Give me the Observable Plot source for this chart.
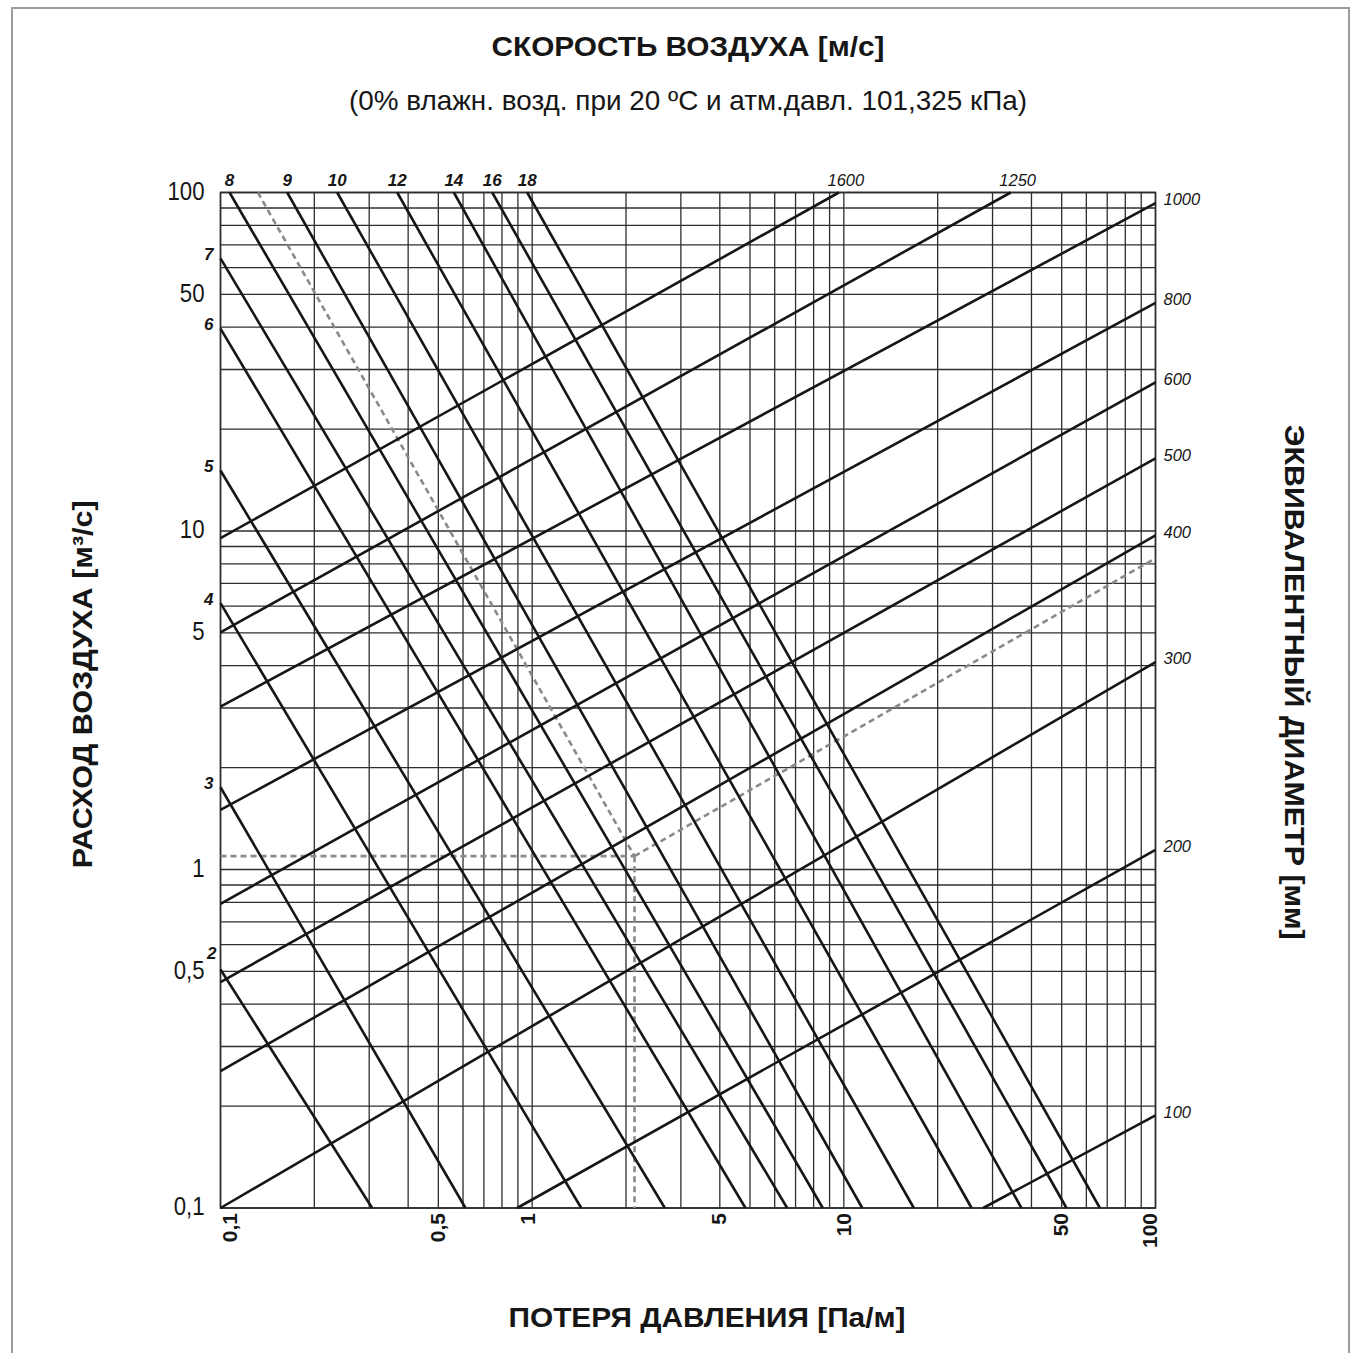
<!DOCTYPE html>
<html>
<head>
<meta charset="utf-8">
<script src="https://cdn.jsdelivr.net/npm/d3@7"></script>
<script src="https://cdn.jsdelivr.net/npm/@observablehq/plot@0.6"></script>
<style>
  body { margin: 0; background: #fff; }
  #wrap { position: relative; width: 1363px; height: 1353px; overflow: hidden; }
  #border { position: absolute; left: 11px; top: 7px; width: 1339px; height: 1400px; border: 2px solid #9c9c9c; box-sizing: border-box; }
  #chart { position: absolute; left: 0; top: 0; }
</style>
</head>
<body>
<div id="wrap"><div id="border"></div><div id="chart"></div></div>
<script>
// ---- Velocity lines [m/s]: start and end points (pressure loss R [Pa/m], flow Q [m3/s])
const velocity = [2, 3, 4, 5, 6, 7, 8, 9, 10, 12, 14, 16, 18];
const vStartR  = [0.1, 0.1, 0.1, 0.1, 0.1, 0.1, 0.1069, 0.1637, 0.2368, 0.369, 0.5607, 0.7445, 0.964];
const vStartQ  = [0.5064, 1.75, 6.12, 15.09, 39.6, 63.9, 100, 100, 100, 100, 100, 100, 100];
const vEndR    = [0.3066, 0.611, 1.437, 2.665, 4.835, 6.58, 8.56, 11.46, 16.77, 25.7, 37.15, 51.8, 66.3];
const vEndQ    = [0.1, 0.1, 0.1, 0.1, 0.1, 0.1, 0.1, 0.1, 0.1, 0.1, 0.1, 0.1, 0.1];

// ---- Equivalent diameter lines [mm]
const diameter = [100, 200, 300, 400, 500, 600, 800, 1000, 1250, 1600];
const dStartR  = [28.0, 0.895, 0.1, 0.1, 0.1, 0.1, 0.1, 0.1, 0.1, 0.1];
const dStartQ  = [0.1, 0.1, 0.1, 0.2536, 0.465, 0.792, 1.50, 3.03, 5.02, 9.52];
const dEndR    = [100, 100, 100, 100, 100, 100, 100, 100, 34.3, 9.64];
const dEndQ    = [0.1877, 1.143, 4.10, 9.70, 16.4, 27.5, 47.2, 93.0, 100, 100];

// ---- Worked example (dashed)
const exampleR = [0.1318, 2.13, 0.1, 2.13, 100];
const exampleQ = [100, 1.095, 1.095, 0.1, 8.31];

// ---- Tick labels
const xTicks = [0.1, 0.5, 1, 5, 10, 50, 100];
const xTickLabels = ["0,1", "0,5", "1", "5", "10", "50", "100"];
const yTicks = [100, 50, 10, 5, 1, 0.5, 0.1];
const yTickLabels = ["100", "50", "10", "5", "1", "0,5", "0,1"];

// ---- Texts
const title = "СКОРОСТЬ ВОЗДУХА [м/с]";
const subtitle = "(0% влажн. возд. при 20 ºC и атм.давл. 101,325 кПа)";
const xLabel = "ПОТЕРЯ ДАВЛЕНИЯ [Па/м]";
const yLabel = "РАСХОД ВОЗДУХА [м³/с]";
const y2Label = "ЭКВИВАЛЕНТНЫЙ ДИАМЕТР [мм]";

const NARROW = "'Liberation Sans Narrow','Arial Narrow','Liberation Sans',Arial,sans-serif";
const SANS = "'Liberation Sans',Arial,sans-serif";
const INK = "#161616";
const GRID = "#2e2e2e";

const vLines = velocity.map((v, i) => ({v, x1: vStartR[i], y1: vStartQ[i], x2: vEndR[i], y2: vEndQ[i]}));
const dLines = diameter.map((d, i) => ({d, x1: dStartR[i], y1: dStartQ[i], x2: dEndR[i], y2: dEndQ[i]}));
const ex = (a, b) => ({x1: exampleR[a], y1: exampleQ[a], x2: exampleR[b], y2: exampleQ[b]});
const exLinks = [ex(0, 1), ex(2, 1), ex(1, 3), ex(1, 4)];

const logScale = d3.scaleLog().domain([0.1, 100]);
const gridVals = logScale.ticks();

// small horizontal nudges of some x tick labels, as in the original drawing
const xLabelShift = {"0,1": 10, "1": -4, "5": -31, "100": -5};
const xTickMarks = xTicks.map((t, i) => Plot.text([t], {
  x: d => d, text: () => xTickLabels[i], frameAnchor: "bottom", dy: 5, dx: xLabelShift[xTickLabels[i]] || 0,
  rotate: -90, textAnchor: "end", lineAnchor: "middle",
  fontFamily: SANS, fontWeight: "bold", fontSize: 21, fill: INK
}));

const vlabelStyle = {fontFamily: SANS, fontWeight: "bold", fontStyle: "italic", fontSize: 17, fill: INK};
const dlabelStyle = {fontFamily: SANS, fontStyle: "italic", fontSize: 16.5, fill: INK};
const bigBold = {fontFamily: NARROW, fontWeight: "bold", fontSize: 28, fill: INK, textAnchor: "middle", lineAnchor: "middle"};

const chart = Plot.plot({
  width: 1363,
  height: 1353,
  marginLeft: 220,
  marginRight: 208,
  marginTop: 192,
  marginBottom: 145.5,
  style: {background: "transparent", color: INK},
  x: {type: "log", domain: [0.1, 100], axis: null},
  y: {type: "log", domain: [0.1, 100], axis: null},
  marks: [
    Plot.ruleX(gridVals, {stroke: GRID, strokeWidth: 1.3}),
    Plot.ruleY(gridVals, {stroke: GRID, strokeWidth: 1.3}),
    Plot.frame({stroke: GRID, strokeWidth: 1.6}),
    Plot.link(exLinks, {x1: "x1", y1: "y1", x2: "x2", y2: "y2", stroke: "#8a8a8a", strokeWidth: 2.6, strokeDasharray: "6,4"}),
    Plot.link(dLines, {x1: "x1", y1: "y1", x2: "x2", y2: "y2", stroke: INK, strokeWidth: 2.6}),
    Plot.link(vLines, {x1: "x1", y1: "y1", x2: "x2", y2: "y2", stroke: INK, strokeWidth: 2.6}),
    // velocity labels
    Plot.text(vLines.filter(d => d.y1 >= 100), {x: "x1", y: "y1", text: d => String(d.v), dy: -12, textAnchor: "middle", ...vlabelStyle}),
    Plot.text(vLines.filter(d => d.y1 < 100 && d.v !== 2), {x: "x1", y: "y1", text: d => String(d.v), dx: -7, dy: -4, textAnchor: "end", ...vlabelStyle}),
    Plot.text(vLines.filter(d => d.v === 2), {x: "x1", y: "y1", text: d => String(d.v), dx: -4, dy: -16, textAnchor: "end", ...vlabelStyle}),
    // diameter labels
    Plot.text(dLines.filter(d => d.x2 >= 100), {x: "x2", y: "y2", text: d => String(d.d), dx: 8, dy: -3, textAnchor: "start", ...dlabelStyle}),
    Plot.text(dLines.filter(d => d.x2 < 100), {x: "x2", y: "y2", text: d => String(d.d), dx: 7, dy: -12, textAnchor: "middle", ...dlabelStyle}),
    // tick labels
    Plot.text(yTicks, {y: d => d, text: (d, i) => yTickLabels[i], frameAnchor: "left", dx: -16, dy: -1, textAnchor: "end",
      lineAnchor: "middle", fontFamily: NARROW, fontSize: 25.5, fill: INK}),
    ...xTickMarks,
    // titles and axis labels
    Plot.text([title], {frameAnchor: "top", dy: -145, ...bigBold}),
    Plot.text([subtitle], {frameAnchor: "top", dy: -91, ...bigBold, fontWeight: "normal"}),
    Plot.text([xLabel], {frameAnchor: "bottom", dx: 19, dy: 110, ...bigBold}),
    Plot.text([yLabel], {frameAnchor: "left", dx: -137, dy: -16, rotate: -90, ...bigBold}),
    Plot.text([y2Label], {frameAnchor: "right", dx: 138, dy: -18, rotate: 90, ...bigBold})
  ]
});
document.getElementById("chart").appendChild(chart);

// fit the condensed-looking headings to the widths they have in the original
const fit = new Map([[title, 393], [subtitle, 678], [xLabel, 397], [yLabel, 368], [y2Label, 515]]);
const yTickSet = new Set(yTickLabels);
d3.select(chart).selectAll("text").each(function () {
  const s = this.textContent;
  const tr = this.getAttribute("transform") || "";
  if (fit.has(s)) {
    d3.select(this).attr("textLength", fit.get(s)).attr("lengthAdjust", "spacingAndGlyphs");
  } else if (yTickSet.has(s) && !/rotate/.test(tr) && this.getAttribute("text-anchor") !== "start") {
    const ff = getComputedStyle(this).fontSize;
    if (parseFloat(ff) > 24) {
      // left tick labels use a narrow face in the original
      const w = this.getComputedTextLength();
      if (w > 0) d3.select(this).attr("textLength", w * 0.87).attr("lengthAdjust", "spacingAndGlyphs");
    }
  }
});
</script>
</body>
</html>
